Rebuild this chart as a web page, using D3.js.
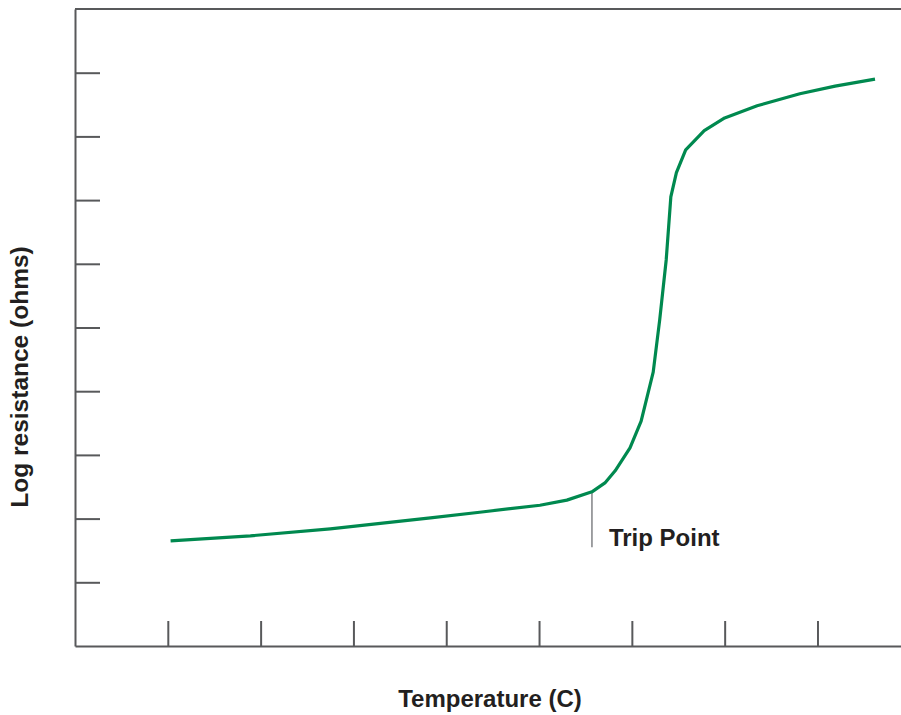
<!DOCTYPE html>
<html>
<head>
<meta charset="utf-8">
<script src="https://cdn.jsdelivr.net/npm/d3@7"></script>
<style>
  html, body { margin: 0; padding: 0; background: #fff; }
  svg { display: block; }
  text { font-family: "Liberation Sans", Arial, sans-serif; font-weight: bold; fill: #231f20; }
</style>
</head>
<body>
<div id="chart"></div>
<script>
// curve (temperature units, log resistance units)
const temps = [1.03, 1.89, 2.75, 3.83, 4.36, 5.01, 5.30, 5.57, 5.71, 5.82, 5.98, 6.10, 6.23, 6.30, 6.37, 6.42, 6.48, 6.58, 6.78, 7.00, 7.35, 7.81, 8.19, 8.62];
const logRes = [1.65, 1.73, 1.84, 2.01, 2.10, 2.21, 2.29, 2.42, 2.56, 2.75, 3.11, 3.53, 4.30, 5.12, 6.06, 7.05, 7.43, 7.79, 8.09, 8.29, 8.48, 8.67, 8.79, 8.90];
const xTicks = [1, 2, 3, 4, 5, 6, 7, 8];
const yTicks = [1, 2, 3, 4, 5, 6, 7, 8, 9];
const tripTemp = 5.57, tripRes = 2.42;
const xLabel = 'Temperature (C)';
const yLabel = 'Log resistance (ohms)';
const tripLabel = 'Trip Point';

const width = 901, height = 715;
const margin = {top: 9, right: 0, bottom: 69, left: 75};
const axisColor = '#58595b';

let svg = d3.select('#chart').append('svg')
    .attr('width', width)
    .attr('height', height);

let xScale = d3.scaleLinear()
    .domain([0, 8.9])
    .range([margin.left, width - margin.right]);
let yScale = d3.scaleLinear()
    .domain([0, 10])
    .range([height - margin.bottom, margin.top]);

//x axis, ticks pointing up into the plot
let xAxis = d3.axisBottom(xScale)
    .tickValues(xTicks)
    .tickSizeInner(-25)
    .tickSizeOuter(0)
    .tickFormat('');
let gx = svg.append('g')
    .attr('transform', `translate(0, ${yScale(0)})`)
    .call(xAxis);

//y axis, ticks pointing right
let yAxis = d3.axisLeft(yScale)
    .tickValues(yTicks)
    .tickSizeInner(-25)
    .tickSizeOuter(0)
    .tickFormat('');
let gy = svg.append('g')
    .attr('transform', `translate(${xScale(0)}, 0)`)
    .call(yAxis);

[gx, gy].forEach(g => {
    g.selectAll('path, line').attr('stroke', axisColor).attr('stroke-width', 2);
});

//top frame line
svg.append('line')
    .attr('x1', xScale(0)).attr('x2', xScale(8.9))
    .attr('y1', yScale(10)).attr('y2', yScale(10))
    .attr('stroke', axisColor)
    .attr('stroke-width', 2);

//trip point marker
svg.append('line')
    .attr('x1', xScale(tripTemp)).attr('x2', xScale(tripTemp))
    .attr('y1', yScale(tripRes)).attr('y2', yScale(1.55))
    .attr('stroke', '#808285')
    .attr('stroke-width', 1.5);

svg.append('text')
    .attr('x', xScale(tripTemp) + 17)
    .attr('y', yScale(1.55) - 1)
    .attr('font-size', 24)
    .text(tripLabel);

//resistance curve
let data = temps.map((t, i) => ({t: t, r: logRes[i]}));
let line = d3.line()
    .x(d => xScale(d.t))
    .y(d => yScale(d.r));
svg.append('path')
    .datum(data)
    .attr('d', line)
    .attr('fill', 'none')
    .attr('stroke', '#00894f')
    .attr('stroke-width', 3.2)
    .attr('stroke-linejoin', 'round');

//axis labels
svg.append('text')
    .attr('x', 490)
    .attr('y', 707)
    .attr('text-anchor', 'middle')
    .attr('font-size', 24)
    .text(xLabel);

svg.append('text')
    .attr('transform', `translate(28, 377) rotate(-90)`)
    .attr('text-anchor', 'middle')
    .attr('font-size', 24.5)
    .text(yLabel);
</script>
</body>
</html>
